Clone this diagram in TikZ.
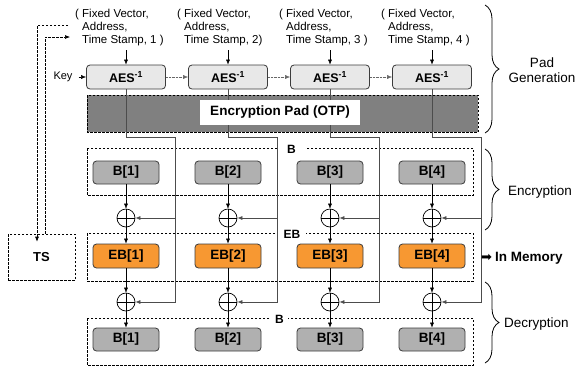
\documentclass[tikz,border=0pt]{standalone}
\usepackage{fontspec}
\setmainfont{Liberation Sans}
\newfontfamily\dejavu{DejaVu Sans}
\usetikzlibrary{arrows.meta,decorations.pathreplacing}
\definecolor{aesfill}{RGB}{232,232,232}
\definecolor{bfill}{RGB}{176,176,176}
\definecolor{ebfill}{RGB}{247,152,50}
\definecolor{padfill}{RGB}{128,128,128}
\definecolor{edge}{RGB}{60,60,60}
\begin{document}
\begin{tikzpicture}[x=1pt,y=-1pt,
  box/.style={draw=edge, line width=0.8pt, rounded corners=3.5pt, inner sep=0pt},
  aes/.style={box, fill=aesfill, minimum width=79pt, minimum height=24pt, font=\bfseries\fontsize{12.5}{14}\selectfont},
  bbox/.style={box, fill=bfill, minimum width=66pt, minimum height=23pt, font=\bfseries\fontsize{13.5}{15}\selectfont},
  ebbox/.style={bbox, fill=ebfill, minimum height=24pt},
  xor/.style={draw=black, line width=0.7pt, circle, minimum size=18pt, inner sep=0pt,
    path picture={\draw[line width=0.7pt] (path picture bounding box.north) -- (path picture bounding box.south)
      (path picture bounding box.west) -- (path picture bounding box.east);}},
  arr/.style={-{Latex[length=5pt,width=4pt]}},
  conn/.style={draw=black!70, line width=0.7pt},
  grp/.style={draw=black, line width=0.6pt, dash pattern=on 2.5pt off 1.5pt},
  glabel/.style={fill=white, inner ysep=1pt, font=\bfseries\fontsize{12}{14}\selectfont},
  inp/.style={anchor=north west, align=left, inner sep=0pt, font=\fontsize{11.5}{13.3}\selectfont},
  rl/.style={inner sep=0pt, font=\fontsize{13.5}{14.5}\selectfont},
  brc/.style={decorate, decoration={brace, amplitude=14pt}, line width=0.8pt},
]
\useasboundingbox (0,0) rectangle (578,368);

% group boxes
\draw[grp] (87,148) rectangle (473,195);
\draw[grp] (87,233) rectangle (473,281);
\draw[grp] (87,318) rectangle (473,365);

% encryption pad
\path[grp, fill=padfill] (87,95) rectangle (478,132);

% input texts
\node[inp] (t1) at (75,8.5) {( Fixed Vector,\\\hphantom{( }Address,\\\hphantom{( }Time Stamp, 1 )};
\node[inp] (t2) at (177,8.5) {( Fixed Vector,\\\hphantom{( }Address,\\\hphantom{( }Time Stamp, 2)};
\node[inp] (t3) at (279,8.5) {( Fixed Vector,\\\hphantom{( }Address,\\\hphantom{( }Time Stamp, 3 )};
\node[inp] (t4) at (381,8.5) {( Fixed Vector,\\\hphantom{( }Address,\\\hphantom{( }Time Stamp, 4 )};

% column nodes
\foreach \i/\cx in {1/126,2/228,3/330,4/432}{
  \node[aes] (a\i) at (\cx,77) {AES\textsuperscript{-1}};
  \node[bbox] (b\i) at (\cx,172.5) {B[\i]};
  \node[xor] (xe\i) at (\cx,218) {};
  \node[ebbox] (eb\i) at (\cx,256) {EB[\i]};
  \node[xor] (xd\i) at (\cx,302) {};
  \node[bbox] (bd\i) at (\cx,339.5) {B[\i]};
  \coordinate (v\i) at (\cx+49,137);
}

% key
\node[inner sep=0pt, font=\fontsize{11}{13}\selectfont] (key) at (63,77) {Key};
\draw[arr] ([xshift=6pt]key.east) -- (a1.west);

% TS
\node[grp, minimum width=67pt, minimum height=46pt, inner sep=0pt, font=\bfseries\fontsize{13}{15}\selectfont] (ts) at (41.5,257) {TS};
\coordinate (tin) at (70,37);
\coordinate (tout) at (68,25);
\draw[grp, arr] ([xshift=3.5pt]ts.north) |- (tin);
\draw[grp, arr] (tout) -| ([xshift=-4.5pt,yshift=-8pt]ts.north);

% connectors
\foreach \i in {1,...,4}{
  \coordinate (s\i) at (a\i.north |- t\i.south);
  \draw[arr] ([yshift=-4pt]s\i) -- (a\i.north);
  \draw[conn, arr] (a\i.south) |- (v\i) |- (xd\i.east);
  \draw[conn, arr] (v\i |- xe\i.east) -- (xe\i.east);
  \draw[arr] (b\i) -- (xe\i);
  \draw[arr] (xe\i) -- (eb\i);
  \draw[arr] (eb\i) -- (xd\i);
  \draw[arr] (xd\i) -- (bd\i);
}
\foreach \i/\j in {1/2,2/3,3/4}
  \draw[densely dotted, draw=black!60, arr] (a\i) -- (a\j);

% pad label
\node[fill=white, minimum width=160pt, minimum height=25pt, inner sep=0pt,
  font=\bfseries\fontsize{13.5}{15}\selectfont] (padl) at (280,112.5) {Encryption Pad (OTP)};

% group labels
\node[glabel, inner xsep=9pt] (lb1) at (291.5,149) {B};
\node[glabel, inner xsep=5.5pt] (leb) at (292,234) {EB};
\node[glabel, inner xsep=4.5pt] (lb2) at (279.5,319) {B};

% braces and side labels
\draw[brc] (485,5) -- (485,133);
\draw[brc] (485,149) -- (485,230);
\draw[brc] (485,282) -- (485,363);
\node[rl, align=center] (pg) at (542,70) {Pad\\Generation};
\node[rl, anchor=west] (enc) at (508,192) {Encryption};
\node[rl, anchor=west] (dec) at (504,324) {Decryption};
\node[anchor=west, inner sep=0pt, font=\bfseries\fontsize{13.5}{15}\selectfont] (mem) at (481,258)
  {{\dejavu\mdseries\fontsize{13}{15}\selectfont ➡}\hspace{3pt}In Memory};
\end{tikzpicture}
\end{document}
